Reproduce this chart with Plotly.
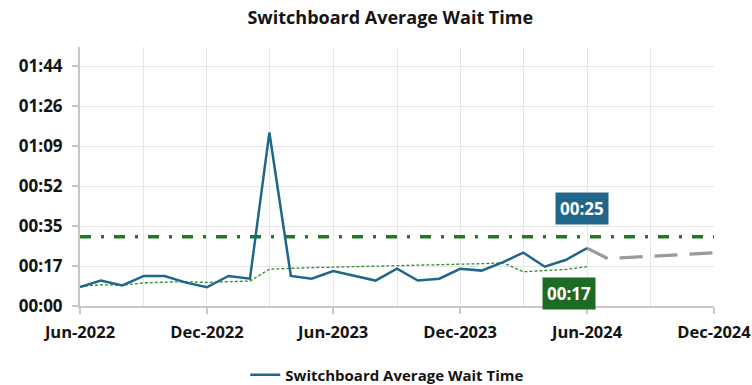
import plotly.graph_objects as go

# Monthly switchboard wait times, in seconds
months = ["2022-06-01", "2022-07-01", "2022-08-01", "2022-09-01", "2022-10-01", "2022-11-01",
          "2022-12-01", "2023-01-01", "2023-02-01", "2023-03-01", "2023-04-01", "2023-05-01",
          "2023-06-01", "2023-07-01", "2023-08-01", "2023-09-01", "2023-10-01", "2023-11-01",
          "2023-12-01", "2024-01-01", "2024-02-01", "2024-03-01", "2024-04-01", "2024-05-01",
          "2024-06-01"]
avg_wait = [8.2, 11.0, 8.9, 13.0, 13.0, 10.1, 8.1, 13.0, 11.8, 75.0, 13.0, 11.8,
            15.1, 13.0, 11.0, 16.1, 11.0, 11.8, 16.1, 15.3, 19.0, 23.1, 17.0, 19.9,
            25.0]
rolling_avg = [8.4, 9.2, 9.0, 10.0, 10.3, 10.5, 10.2, 10.5, 10.8, 15.9, 16.4, 16.6,
               16.8, 17.0, 17.2, 17.3, 17.5, 17.6, 17.9, 18.3, 18.7, 14.8, 15.3, 15.8,
               17.0]

forecast_months = ["2024-06-01", "2024-07-01", "2024-08-01", "2024-09-01", "2024-10-01",
                   "2024-11-01", "2024-12-01"]
forecast_wait = [25.0, 20.5, 21.0, 21.5, 22.0, 22.5, 23.0]

target_months = ["2022-06-01", "2024-12-01"]
target_wait = [30.0, 30.0]

y_tick_vals = [0, 17.28, 34.56, 51.84, 69.12, 86.4, 103.68]
y_tick_text = ["00:00", "00:17", "00:35", "00:52", "01:09", "01:26", "01:44"]
x_tick_vals = ["2022-06-01", "2022-12-01", "2023-06-01", "2023-12-01", "2024-06-01", "2024-12-01"]
x_tick_text = ["Jun-2022", "Dec-2022", "Jun-2023", "Dec-2023", "Jun-2024", "Dec-2024"]

BLUE = "#20668a"
GREEN = "#1e7a1e"
GREEN_BOX = "#1d6b24"
GRAY = "#9a9a9a"
FONT = "Open Sans"
TEXT = "#141414"


def mmss(sec):
    s = int(round(sec))
    return f"{s // 60:02d}:{s % 60:02d}"


fig = go.Figure()

fig.add_trace(go.Scatter(
    x=target_months, y=target_wait, mode="lines", showlegend=False,
    line=dict(color=GREEN, width=3.5, dash="11px,10px,3px,10px"), hoverinfo="skip"))

fig.add_trace(go.Scatter(
    x=months, y=rolling_avg, mode="lines", showlegend=False,
    line=dict(color="#2e8b2e", width=1.3, dash="3px,2px"), hoverinfo="skip"))

fig.add_trace(go.Scatter(
    x=forecast_months, y=forecast_wait, mode="lines", showlegend=False,
    line=dict(color=GRAY, width=3.2, dash="23px,12px"), hoverinfo="skip"))

fig.add_trace(go.Scatter(
    x=months, y=avg_wait, mode="lines", name="Switchboard Average Wait Time",
    line=dict(color=BLUE, width=2.5)))

fig.add_annotation(
    x=months[-1], y=avg_wait[-1], text=mmss(avg_wait[-1]), showarrow=False,
    yshift=40, xshift=-5, bgcolor=BLUE, borderpad=4,
    font=dict(family=FONT, size=17, color="white", weight="bold"))

fig.add_annotation(
    x=months[-1], y=rolling_avg[-1], text=mmss(rolling_avg[-1]), showarrow=False,
    yshift=-27, xshift=-18, bgcolor=GREEN_BOX, borderpad=4,
    font=dict(family=FONT, size=17, color="white", weight="bold"))

fig.update_layout(
    width=752, height=385,
    margin=dict(l=80, r=38, t=47, b=79, autoexpand=False),
    paper_bgcolor="white", plot_bgcolor="white",
    font=dict(family=FONT, color=TEXT),
    title=dict(text="Switchboard Average Wait Time", x=0.519, xanchor="center",
               y=0.955, yanchor="middle", yref="container",
               font=dict(family=FONT, size=18, color=TEXT, weight="bold")),
    legend=dict(orientation="h", x=0.515, xanchor="center", y=0.026, yanchor="middle",
                xref="container", yref="container",
                font=dict(family=FONT, size=15, color=TEXT, weight="bold"),
                itemwidth=30),
    xaxis=dict(
        type="date", range=["2022-06-01", "2024-12-01"], automargin=False,
        tickvals=x_tick_vals, ticktext=x_tick_text, ticklabeloverflow="allow",
        ticklabelstandoff=4,
        tickfont=dict(family=FONT, size=16.5, color=TEXT, weight="bold"),
        showgrid=True, gridcolor="#e6e6e6", gridwidth=1,
        minor=dict(dtick="M3", tick0="2022-06-01", showgrid=True, gridcolor="#e6e6e6"),
        showline=True, linecolor="#c8c8c8", linewidth=2,
        ticks="outside", ticklen=6, tickcolor="#c8c8c8", tickwidth=1.5,
        zeroline=False),
    yaxis=dict(
        range=[0, 112], tickvals=y_tick_vals, ticktext=y_tick_text, automargin=False,
        ticklabelstandoff=6,
        tickfont=dict(family=FONT, size=17, color=TEXT, weight="bold"),
        showgrid=True, gridcolor="#e6e6e6", gridwidth=1,
        showline=True, linecolor="#c8c8c8", linewidth=2,
        ticks="outside", ticklen=6, tickcolor="#c8c8c8", tickwidth=1.5,
        zeroline=False),
)

fig.write_html("out.html")
